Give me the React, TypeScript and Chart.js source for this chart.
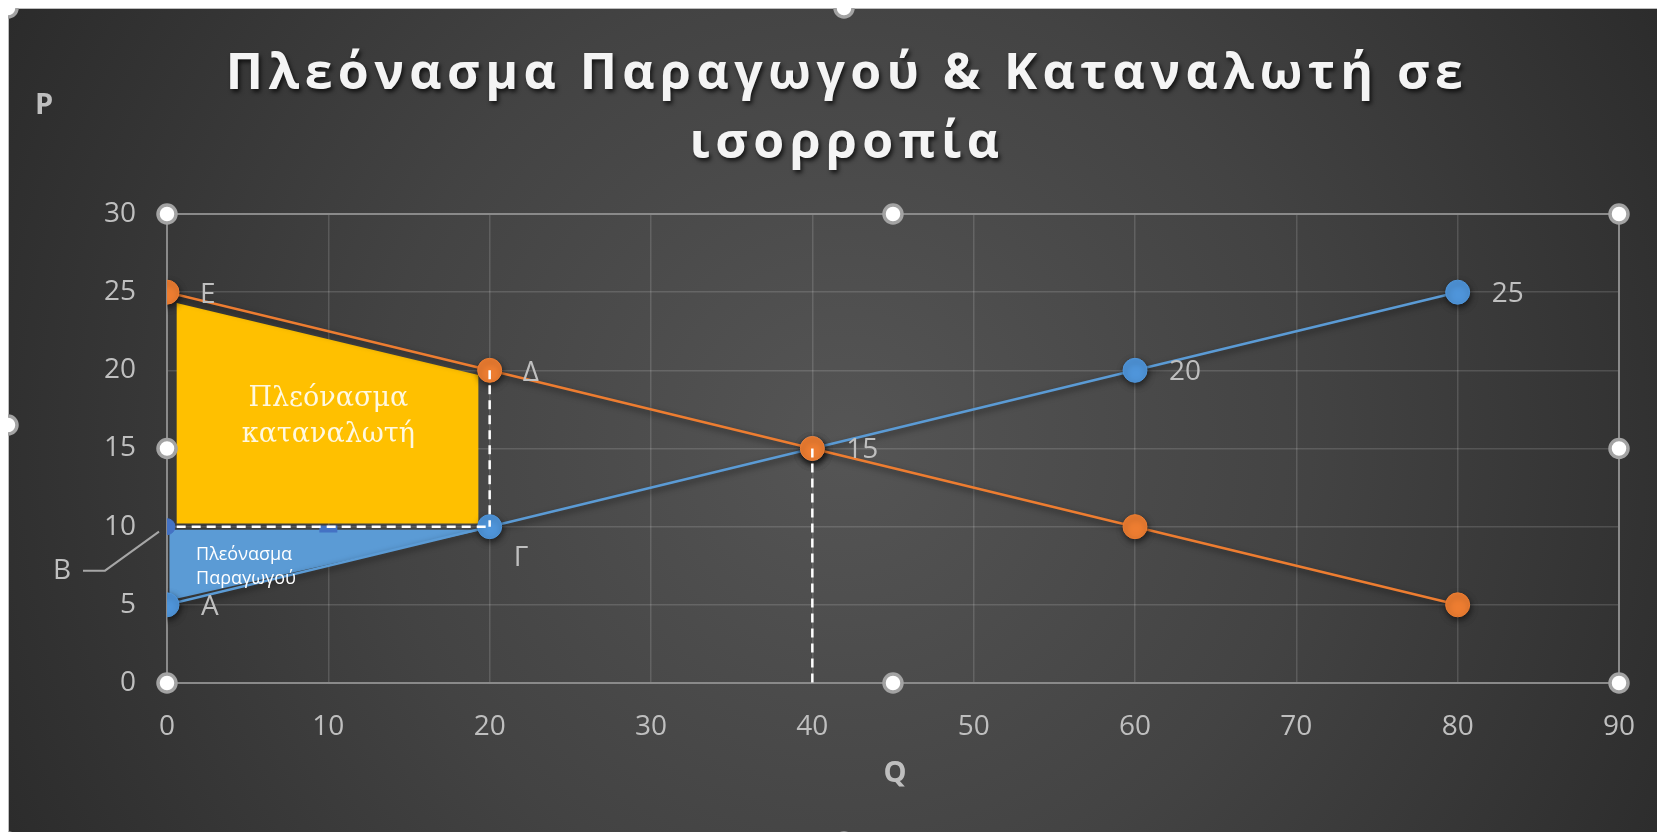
import React, { useEffect, useRef } from 'react';
import { Chart, registerables } from 'chart.js';

Chart.register(...registerables);

// ---- data ----
const supplyQ = [0, 20, 40, 60, 80];
const supplyP = [5, 10, 15, 20, 25];
const supplyLabels = ['A', 'Γ', '15', '20', '25'];
const supplyLabelAlign = ['right', 'below', 'right', 'right', 'right'];

const demandQ = [0, 20, 40, 60, 80];
const demandP = [25, 20, 15, 10, 5];
const demandLabels = ['E', 'Δ', '', '', ''];

const priceQ = [0];
const priceP = [10];
const priceLabel = 'B';
const midMarkQ = [10];
const midMarkP = [9.85];

const consumerQ = [0.6, 19.3, 19.3, 0.6, 0.6];
const consumerP = [24.3, 19.7, 10.2, 10.2, 24.3];
const consumerText = ['Πλεόνασμα', 'καταναλωτή'];
const consumerTextAt = [10, 17];

const producerQ = [0.15, 19.6, 0.15, 0.15];
const producerP = [9.8, 9.8, 5.3, 9.8];
const producerText = ['Πλεόνασμα', 'Παραγωγού'];
const producerTextAt = [1.8, 7.4];

const guideHQ = [0.6, 20];
const guideHP = [10, 10];
const guideV1Q = [20, 20];
const guideV1P = [20, 10];
const guideV2Q = [40, 40];
const guideV2P = [15, 0];

const xMin = 0, xMax = 90, xStep = 10;
const yMin = 0, yMax = 30, yStep = 5;

const titleLines = ['Πλεόνασμα Παραγωγού & Καταναλωτή σε', 'ισορροπία'];
const xTitle = 'Q';
const yTitle = 'P';

const zip = (xs: number[], ys: number[]) => xs.map((x, i) => ({ x, y: ys[i] }));

const W = 1672;
const H = 834;
const TICK = '#bfbfbf';
const SANS = '"Open Sans", "Noto Sans", sans-serif';

function handle(ctx: CanvasRenderingContext2D, x: number, y: number) {
  ctx.save();
  ctx.beginPath();
  ctx.arc(x, y, 9, 0, Math.PI * 2);
  ctx.fillStyle = '#ffffff';
  ctx.fill();
  ctx.lineWidth = 3.5;
  ctx.strokeStyle = '#a3a3a3';
  ctx.stroke();
  ctx.restore();
}

const bgPlugin = {
  id: 'bg',
  beforeDraw(chart: any) {
    const { ctx, width, height } = chart;
    ctx.save();
    const g = ctx.createRadialGradient(width * 0.5, height * 0.52, 0, width * 0.5, height * 0.52, width * 0.62);
    g.addColorStop(0, '#555555');
    g.addColorStop(0.45, '#434343');
    g.addColorStop(1, '#262626');
    ctx.fillStyle = g;
    ctx.fillRect(0, 0, width, height);
    ctx.strokeStyle = '#bdbdbd';
    ctx.lineWidth = 1;
    ctx.strokeRect(0.5, 0.5, width - 1, height - 1);
    ctx.restore();
  },
};

const shadowPlugin = {
  id: 'shadows',
  beforeDatasetDraw(chart: any, args: any) {
    const ds = chart.data.datasets[args.index];
    if (ds.shadow) {
      const ctx = chart.ctx;
      ctx.save();
      ctx.shadowColor = 'rgba(0,0,0,0.55)';
      ctx.shadowBlur = 6;
      ctx.shadowOffsetX = 1;
      ctx.shadowOffsetY = 3;
    }
  },
  afterDatasetDraw(chart: any, args: any) {
    const ds = chart.data.datasets[args.index];
    if (ds.shadow) chart.ctx.restore();
  },
};

const framePlugin = {
  id: 'frame',
  beforeDatasetsDraw(chart: any) {
    const { ctx, chartArea: a } = chart;
    ctx.save();
    ctx.strokeStyle = '#8a8a8a';
    ctx.lineWidth = 2;
    ctx.strokeRect(a.left, a.top, a.right - a.left, a.bottom - a.top);
    ctx.restore();
  },
};

const textPlugin = {
  id: 'texts',
  afterDraw(chart: any) {
    const { ctx, chartArea: a, width, height } = chart;
    const sx = chart.scales.x;
    const sy = chart.scales.y;
    ctx.save();

    // title
    ctx.font = `bold 50px ${SANS}`;
    (ctx as any).letterSpacing = '5.4px';
    ctx.textAlign = 'center';
    ctx.textBaseline = 'alphabetic';
    ctx.fillStyle = '#f4f4f4';
    ctx.shadowColor = 'rgba(0,0,0,0.7)';
    ctx.shadowBlur = 4;
    ctx.shadowOffsetX = 2;
    ctx.shadowOffsetY = 3;
    ctx.fillText(titleLines[0], width / 2 + 3, 81);
    ctx.fillText(titleLines[1], width / 2 + 3, 150);
    (ctx as any).letterSpacing = '0px';
    ctx.shadowColor = 'rgba(0,0,0,0)';
    ctx.shadowBlur = 0;
    ctx.shadowOffsetX = 0;
    ctx.shadowOffsetY = 0;

    // axis titles
    ctx.font = `bold 29px ${SANS}`;
    ctx.fillStyle = TICK;
    ctx.textBaseline = 'middle';
    ctx.fillText(xTitle, (a.left + a.right) / 2 + 2, 766);
    ctx.fillText(yTitle, 36, 98);

    // point labels
    ctx.font = `28px ${SANS}`;
    ctx.fillStyle = TICK;
    ctx.textAlign = 'left';
    const sMeta = chart.getDatasetMeta(1);
    supplyLabels.forEach((t, i) => {
      const p = sMeta.data[i];
      if (!t || !p) return;
      if (supplyLabelAlign[i] === 'below') ctx.fillText(t, p.x + 24, p.y + 31);
      else ctx.fillText(t, p.x + 34, p.y + 2);
    });
    const dMeta = chart.getDatasetMeta(0);
    demandLabels.forEach((t, i) => {
      const p = dMeta.data[i];
      if (!t || !p) return;
      ctx.fillText(t, p.x + 33, p.y + 3);
    });

    // B label with leader line
    const bx = sx.getPixelForValue(priceQ[0]);
    const by = sy.getPixelForValue(priceP[0]);
    ctx.textAlign = 'center';
    ctx.fillText(priceLabel, bx - 105, by + 44);
    ctx.beginPath();
    ctx.moveTo(bx - 84, by + 44);
    ctx.lineTo(bx - 62, by + 44);
    ctx.lineTo(bx - 8, by + 5);
    ctx.strokeStyle = '#a6a6a6';
    ctx.lineWidth = 2;
    ctx.stroke();

    // shaded area texts
    ctx.font = `27px "DejaVu Serif", "Liberation Serif", serif`;
    ctx.fillStyle = '#fff8e0';
    ctx.textAlign = 'center';
    const cx = sx.getPixelForValue(consumerTextAt[0]);
    const cy = sy.getPixelForValue(consumerTextAt[1]);
    ctx.fillText(consumerText[0], cx, cy - 18);
    ctx.fillText(consumerText[1], cx, cy + 18);

    ctx.font = `18px ${SANS}`;
    ctx.fillStyle = '#ffffff';
    ctx.textAlign = 'left';
    const px = sx.getPixelForValue(producerTextAt[0]);
    const py = sy.getPixelForValue(producerTextAt[1]);
    ctx.fillText(producerText[0], px, py - 12);
    ctx.fillText(producerText[1], px, py + 12);

    // selection handles (plot area + chart)
    const mx = (a.left + a.right) / 2;
    const my = (a.top + a.bottom) / 2;
    [[a.left, a.top], [mx, a.top], [a.right, a.top], [a.left, my], [a.right, my], [a.left, a.bottom], [mx, a.bottom], [a.right, a.bottom]].forEach(([x, y]) => handle(ctx, x, y));
    [[0, 0], [width / 2, 0], [width, 0], [0, height / 2], [width, height / 2], [0, height], [width / 2, height], [width, height]].forEach(([x, y]) => handle(ctx, x, y));

    ctx.restore();
  },
};

export default function App() {
  const ref = useRef<HTMLCanvasElement>(null);
  useEffect(() => {
    document.body.style.overflow = 'hidden';
    const canvas = ref.current!;
    const dashed = (q: number[], p: number[]) => ({
      data: zip(q, p),
      showLine: true,
      borderColor: '#ffffff',
      borderWidth: 2.5,
      borderDash: [9, 6],
      pointRadius: 0,
      fill: false,
      order: 0,
    });
    const chart = new Chart(canvas, {
      type: 'scatter',
      data: {
        datasets: [
          {
            data: zip(demandQ, demandP),
            showLine: true,
            borderColor: '#ed7d31',
            borderWidth: 2.5,
            pointRadius: 12,
            pointBackgroundColor: '#ed7d31',
            pointBorderColor: '#ed7d31',
            pointBorderWidth: 1,
            shadow: true,
            order: 2,
          } as any,
          {
            data: zip(supplyQ, supplyP),
            showLine: true,
            borderColor: '#5b9bd5',
            borderWidth: 2.5,
            pointRadius: 12,
            pointBackgroundColor: '#4f95da',
            pointBorderColor: '#4f95da',
            pointBorderWidth: 1,
            shadow: true,
            order: 3,
          } as any,
          {
            data: zip(consumerQ, consumerP),
            showLine: true,
            borderColor: 'rgba(0,0,0,0)',
            borderWidth: 1,
            backgroundColor: '#ffc000',
            fill: 'shape',
            pointRadius: 0,
            order: 5,
          },
          {
            data: zip(producerQ, producerP),
            showLine: true,
            borderColor: 'rgba(0,0,0,0)',
            borderWidth: 1,
            backgroundColor: '#5b9bd5',
            fill: 'shape',
            pointRadius: 0,
            order: 4,
          },
          {
            data: zip(priceQ, priceP),
            showLine: false,
            pointRadius: 8,
            pointBackgroundColor: '#4472c4',
            pointBorderColor: '#4472c4',
            order: 1,
          },
          {
            data: zip(midMarkQ, midMarkP),
            showLine: false,
            pointStyle: 'line',
            pointRadius: 9,
            pointBorderWidth: 7,
            pointBorderColor: '#4472c4',
            order: 1,
          },
          dashed(guideHQ, guideHP),
          dashed(guideV1Q, guideV1P),
          dashed(guideV2Q, guideV2P),
        ] as any,
      },
      options: {
        animation: false,
        responsive: false,
        events: [],
        layout: { padding: { left: 0, top: 206, right: 61, bottom: 0 } },
        plugins: {
          legend: { display: false },
          title: { display: false },
          tooltip: { enabled: false },
        },
        scales: {
          x: {
            type: 'linear',
            min: xMin,
            max: xMax,
            ticks: { stepSize: xStep, color: TICK, font: { family: SANS, size: 28 }, padding: 27 },
            grid: { color: 'rgba(255,255,255,0.14)', lineWidth: 1.5, drawTicks: false },
            border: { display: false },
            afterFit: (s: any) => { s.height = 159; },
          },
          y: {
            type: 'linear',
            min: yMin,
            max: yMax,
            ticks: { stepSize: yStep, color: TICK, font: { family: SANS, size: 28 }, padding: 31 },
            grid: { color: 'rgba(255,255,255,0.14)', lineWidth: 1.5, drawTicks: false },
            border: { display: false },
            afterFit: (s: any) => { s.width = 159; },
          },
        },
      } as any,
      plugins: [bgPlugin, framePlugin, shadowPlugin, textPlugin],
    });
    return () => chart.destroy();
  }, []);
  return (
    <div style={{ width: W, height: H }}>
      <canvas ref={ref} width={W} height={H} style={{ display: 'block' }} />
    </div>
  );
}
